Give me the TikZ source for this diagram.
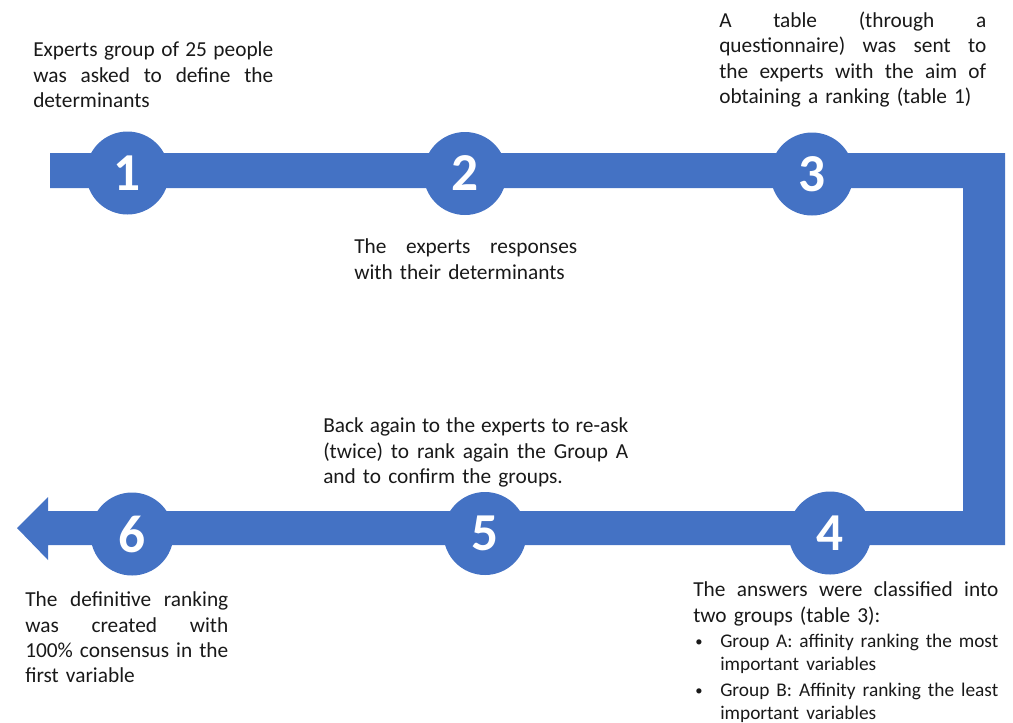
\documentclass[tikz,border=0pt]{standalone}
\usepackage{fontspec}
\setmainfont{Carlito}
\setlength{\parindent}{0pt}
\definecolor{stepblue}{HTML}{4472C4}
\newlength{\stepw}
\newcommand{\jline}[1]{\makebox[\stepw][s]{\spaceskip=0pt\xspaceskip=0pt #1}\\}
\newcommand{\bitem}[1]{\hspace*{1.5pt}\makebox[18.75pt][l]{\raisebox{1pt}{\fontsize{11}{11}\selectfont\textbullet}}%
  \makebox[\dimexpr\stepw-20.25pt][s]{\spaceskip=0pt\xspaceskip=0pt\fontsize{14.5}{19.1}\selectfont #1}}
\newcommand{\bcont}[1]{\hspace*{20.25pt}{\fontsize{14.5}{19.1}\selectfont #1}}

\begin{document}
\begin{tikzpicture}[x=0.75pt,y=-0.75pt,
    stepnum/.style={circle,fill=stepblue,minimum size=62.25pt,inner sep=0pt,text=white,
      font=\fontsize{40}{40}\selectfont\bfseries},
    steptext/.style={anchor=north west,inner sep=0pt,text=black!90,
      text width=#1,execute at begin node={\setlength{\stepw}{#1}},
      font=\fontsize{16}{19.1}\selectfont}]
  \useasboundingbox (0,0) rectangle (1013,722);

  % the path with the arrow at its end
  \fill[stepblue] (50,153) -- (1005,153) -- (1005,545) -- (48,545) -- (48,560) -- (17,528)
    -- (48,497) -- (48,511) -- (963,511) -- (963,188) -- (50,188) -- cycle;

  \node[stepnum] (s1) at (127.5,173) {1};
  \node[stepnum] (s2) at (465,173.5) {2};
  \node[stepnum] (s3) at (812,174) {3};
  \node[stepnum] (s4) at (830,533) {4};
  \node[stepnum] (s5) at (485,533.5) {5};
  \node[stepnum] (s6) at (132,534) {6};

  \node[steptext=180pt] (t1) at (33,41.5) {%
    \jline{Experts group of 25 people}
    \jline{was asked to define the}
    determinants};
  \node[steptext=167.25pt] (t2) at (354,238.5) {%
    \jline{The experts responses}
    with their determinants};
  \node[steptext=200.25pt] (t3) at (719,11.5) {%
    \jline{A table (through a}
    \jline{questionnaire) was sent to}
    \jline{the experts with the aim of}
    obtaining a ranking (table 1)};
  \node[steptext=228.75pt] (t4) at (693,581.5) {%
    \jline{The answers were classified into}
    two groups (table 3):\\
    \bitem{Group A: affinity ranking the most}\\[-1.5pt]
    \bcont{important variables}\\
    \bitem{Group B: Affinity ranking the least}\\[-1.5pt]
    \bcont{important variables}};
  \node[steptext=228.75pt] (t5) at (323,417.5) {%
    \jline{Back again to the experts to re-ask}
    \jline{(twice) to rank again the Group A}
    and to confirm the groups.};
  \node[steptext=152.25pt] (t6) at (25,591.5) {%
    \jline{The definitive ranking}
    \jline{was created with}
    \jline{100\% consensus in the}
    first variable};
\end{tikzpicture}
\end{document}
